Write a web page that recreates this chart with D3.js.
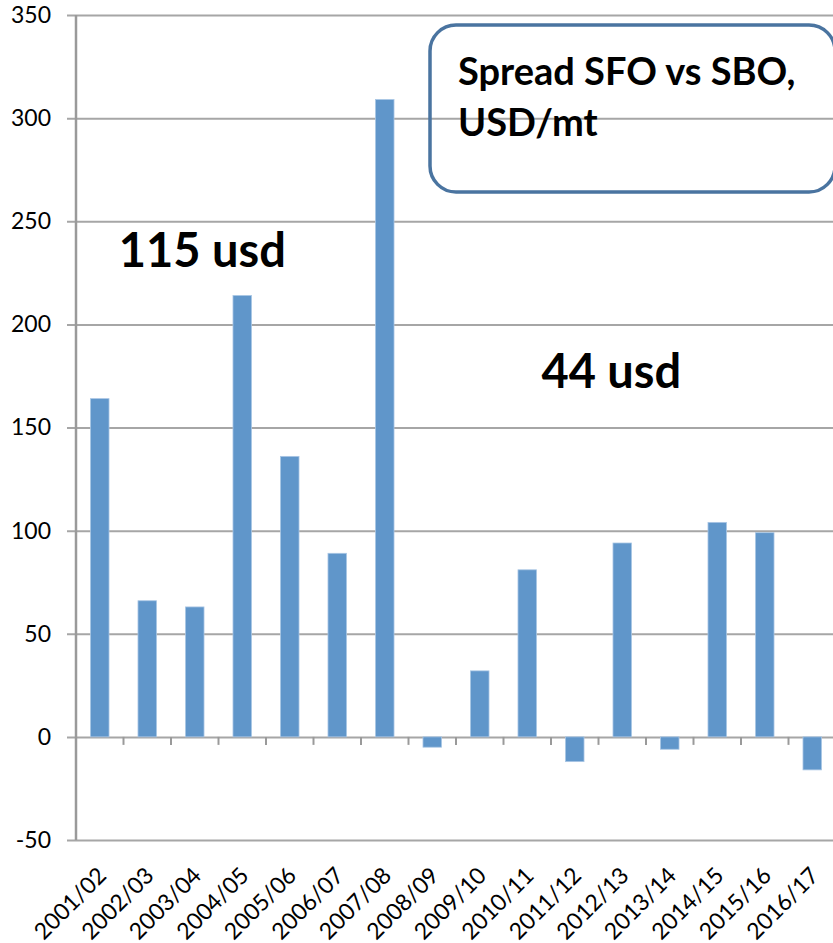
<!DOCTYPE html>
<html>
<head>
<meta charset="utf-8">
<script src="https://cdn.jsdelivr.net/npm/d3@7"></script>
<style>
  body { margin: 0; background: #fff; }
  text { font-family: Lato, "DejaVu Sans", sans-serif; }
</style>
</head>
<body>
<div id="spread_chart"></div>
<script>
// data
var seasons = ["2001/02", "2002/03", "2003/04", "2004/05", "2005/06", "2006/07", "2007/08", "2008/09",
    "2009/10", "2010/11", "2011/12", "2012/13", "2013/14", "2014/15", "2015/16", "2016/17"];
var spread = [164, 66, 63, 214, 136, 89, 309, -5, 32, 81, -12, 94, -6, 104, 99, -16];
var yTicks = [-50, 0, 50, 100, 150, 200, 250, 300, 350];
var titleLines = ["Spread SFO vs SBO,", "USD/mt"];
// average labels: pos = centre in band units from the left axis, v = baseline in chart units
var notes = [{ label: "115 usd", pos: 2.66, v: 228 }, { label: "44 usd", pos: 11.27, v: 169 }];

// set the dimensions and margins of the graph
var margin = { top: 15, right: 0, bottom: 103, left: 76 },
    width = 760,
    height = 825;

var svg = d3.select("#spread_chart")
    .append("svg")
    .attr("width", 833)
    .attr("height", 943)
    .append("g")
    .attr("transform", "translate(" + margin.left + "," + margin.top + ")");

// X scale
var x = d3.scaleBand()
    .domain(seasons)
    .range([0, width])
    .padding(0);

// Y scale
var y = d3.scaleLinear()
    .domain([-50, 350])
    .range([height, 0]);

// horizontal gridlines + y labels (plain hyphen for negatives, like the original)
svg.append("g")
    .call(d3.axisLeft(y).tickValues(yTicks).tickSize(-width - 9).tickFormat(function (d) { return String(d); }))
    .call(function (g) {
        g.select(".domain").remove();
        g.selectAll(".tick line")
            .attr("x1", -9)
            .attr("x2", width)
            .attr("stroke", "#a6a6a6")
            .attr("stroke-width", 2);
        g.selectAll(".tick text")
            .attr("x", -25)
            .attr("fill", "#000")
            .style("font-size", "23px");
    });

// vertical axis line
svg.append("line")
    .attr("x1", 0).attr("x2", 0)
    .attr("y1", 0).attr("y2", height)
    .attr("stroke", "#9a9a9a")
    .attr("stroke-width", 2.5);

// small ticks on the zero line at band edges
svg.append("g")
    .selectAll("line")
    .data(seasons.slice(1))
    .enter().append("line")
    .attr("x1", function (d) { return x(d); })
    .attr("x2", function (d) { return x(d); })
    .attr("y1", y(0))
    .attr("y2", y(0) + 8)
    .attr("stroke", "#9a9a9a")
    .attr("stroke-width", 2);

// x labels, rotated
svg.append("g")
    .selectAll("text")
    .data(seasons)
    .enter().append("text")
    .attr("transform", function (d) {
        return "translate(" + (x(d) + x.bandwidth() / 2 + 8) + "," + (y(-50) + 37) + ") rotate(-45)";
    })
    .attr("text-anchor", "end")
    .style("font-size", "23px")
    .attr("fill", "#000")
    .text(function (d) { return d; });

// Show the bars
var barW = x.bandwidth() * 0.39;
svg.append("g")
    .selectAll("rect")
    .data(seasons)
    .enter().append("rect")
    .attr("x", function (d) { return x(d) + (x.bandwidth() - barW) / 2; })
    .attr("y", function (d, i) { return y(Math.max(0, spread[i])); })
    .attr("width", barW)
    .attr("height", function (d, i) { return Math.abs(y(spread[i]) - y(0)); })
    .attr("fill", "#6096ca")
    .attr("stroke", "#a9c6e4")
    .attr("stroke-width", 0.8);

// average annotations
svg.append("g")
    .selectAll("text")
    .data(notes)
    .enter().append("text")
    .attr("x", function (d) { return x(seasons[0]) + x.step() * d.pos; })
    .attr("y", function (d) { return y(d.v); })
    .attr("text-anchor", "middle")
    .style("font-size", "47px")
    .style("font-weight", "bold")
    .attr("fill", "#000")
    .text(function (d) { return d.label; });

// title box (no fill, gridlines show through)
svg.append("rect")
    .attr("x", 354)
    .attr("y", 10)
    .attr("width", 405)
    .attr("height", 167)
    .attr("rx", 26)
    .attr("fill", "none")
    .attr("stroke", "#4a74a0")
    .attr("stroke-width", 3.5);

svg.append("g")
    .selectAll("text")
    .data(titleLines)
    .enter().append("text")
    .attr("x", 382)
    .attr("y", function (d, i) { return 70 + i * 51; })
    .style("font-size", "38px")
    .style("font-weight", "bold")
    .attr("fill", "#000")
    .text(function (d) { return d; });
</script>
</body>
</html>
